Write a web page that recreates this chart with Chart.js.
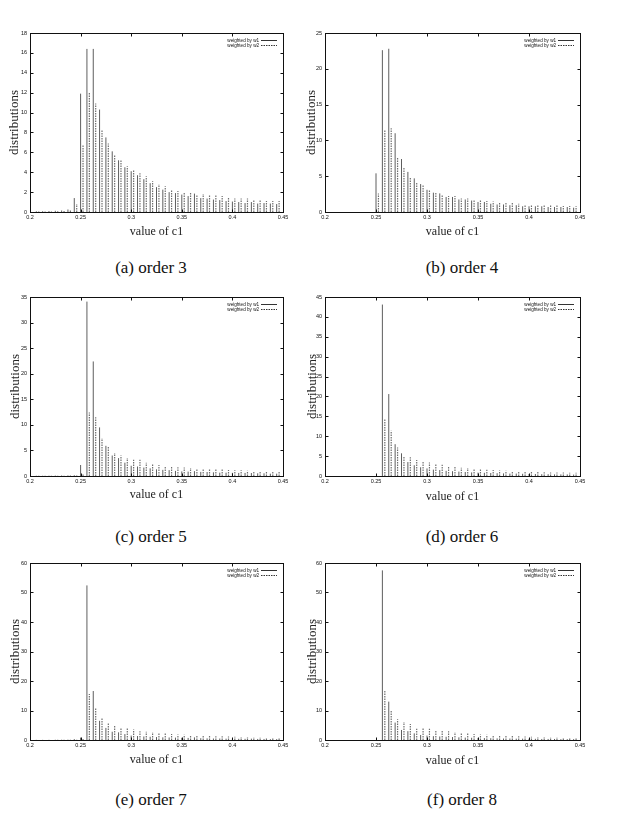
<!DOCTYPE html>
<html>
<head>
<meta charset="utf-8">
<script src="https://cdn.jsdelivr.net/npm/chart.js@4.4.1/dist/chart.umd.min.js"></script>
<style>
  body { margin: 0; background: #fff; width: 618px; height: 824px; position: relative; overflow: hidden; }
  canvas { position: absolute; }
  .cap { position: absolute; font-family: "Liberation Serif", serif; font-size: 17px; color: #111;
         transform: translate(-50%, -50%); white-space: nowrap; }
</style>
</head>
<body>
<script>
// bin positions of c1 (left series), w2 is drawn a little to the right
const bins = [0.20625, 0.2125, 0.21875, 0.225, 0.23125, 0.2375, 0.24375,
  0.25, 0.25625, 0.2625, 0.26875, 0.275, 0.28125, 0.2875, 0.29375, 0.3, 0.30625,
  0.3125, 0.31875, 0.325, 0.33125, 0.3375, 0.34375, 0.35, 0.35625, 0.3625, 0.36875,
  0.375, 0.38125, 0.3875, 0.39375, 0.4, 0.40625, 0.4125, 0.41875, 0.425, 0.43125,
  0.4375, 0.44375];

const order3W1 = [0.07, 0.08, 0.1, 0.12, 0.15, 0.25, 1.4, 11.9, 16.4, 16.4, 10.3, 7.5, 6.1, 5.2, 4.5, 4.1, 3.7, 3.3, 2.9, 2.5, 2.25, 2.0, 1.9, 1.75, 1.6, 1.85, 1.4, 1.35, 1.25, 1.2, 1.1, 1.05, 1.0, 0.9, 1.0, 0.85, 0.9, 0.85, 0.8];
const order3W2 = [0.04, 0.05, 0.06, 0.08, 0.1, 0.15, 0.8, 6.7, 12.0, 10.9, 8.2, 6.9, 5.7, 5.2, 4.6, 4.2, 3.9, 3.6, 3.1, 2.8, 2.6, 2.25, 2.1, 2.0, 1.9, 1.75, 1.8, 1.75, 1.65, 1.6, 1.5, 1.35, 1.35, 1.35, 1.2, 1.2, 1.1, 1.1, 1.1];

const order4W1 = [0, 0, 0, 0, 0, 0, 0, 5.4, 22.6, 22.8, 11.0, 7.4, 5.6, 4.7, 3.9, 3.1, 2.7, 2.6, 2.1, 2.1, 1.75, 1.75, 1.6, 1.4, 1.4, 1.15, 1.05, 1.05, 0.95, 0.95, 0.8, 0.8, 0.8, 0.8, 0.7, 0.7, 0.7, 0.7, 0.6];
const order4W2 = [0, 0, 0, 0, 0, 0, 0, 2.6, 11.45, 11.7, 7.6, 6.3, 4.9, 4.1, 3.8, 3.1, 2.8, 2.45, 2.25, 2.25, 1.9, 1.9, 1.75, 1.65, 1.55, 1.45, 1.3, 1.25, 1.25, 1.15, 1.05, 1.05, 1.05, 0.9, 0.9, 0.9, 0.85, 0.85, 0.8];

const order5W1 = [0.05, 0.05, 0.06, 0.08, 0.1, 0.12, 0.15, 2.15, 34.1, 22.4, 9.5, 5.9, 4.0, 3.5, 2.6, 2.0, 1.85, 1.65, 1.5, 1.3, 1.2, 1.15, 1.0, 0.9, 0.85, 0.95, 0.8, 0.78, 0.72, 0.65, 0.65, 0.62, 0.6, 0.6, 0.58, 0.52, 0.52, 0.45, 0.45];
const order5W2 = [0.03, 0.03, 0.04, 0.05, 0.06, 0.08, 0.1, 0.4, 12.4, 11.5, 7.4, 5.7, 4.5, 4.0, 3.5, 3.2, 3.2, 2.6, 2.3, 2.15, 1.95, 1.85, 1.7, 1.65, 1.55, 1.45, 1.4, 1.3, 1.3, 1.25, 1.15, 1.1, 1.1, 1.05, 1.0, 0.95, 0.9, 0.9, 0.9];

const order6W1 = [0, 0, 0, 0, 0, 0, 0, 0, 43.1, 20.6, 8.0, 5.7, 3.5, 2.7, 2.2, 1.9, 1.6, 1.5, 1.3, 1.2, 1.1, 1.0, 0.9, 0.85, 0.8, 0.75, 0.7, 0.65, 0.6, 0.6, 0.55, 0.5, 0.5, 0.45, 0.45, 0.4, 0.4, 0.4, 0.35];
const order6W2 = [0, 0, 0, 0, 0, 0, 0, 0, 14.3, 11.35, 7.15, 4.8, 4.7, 4.0, 3.7, 3.4, 3.0, 2.8, 2.5, 2.3, 2.1, 2.0, 1.85, 1.7, 1.6, 1.5, 1.4, 1.3, 1.25, 1.2, 1.1, 1.05, 1.0, 0.95, 0.9, 0.9, 0.85, 0.8, 0.8];

const order7W1 = [0.05, 0.05, 0.06, 0.08, 0.1, 0.12, 0.3, 0.8, 52.4, 16.6, 6.5, 4.1, 2.8, 2.6, 2.0, 1.5, 1.35, 1.2, 1.1, 1.0, 0.9, 0.85, 0.8, 0.75, 0.7, 0.9, 0.6, 0.55, 0.5, 0.5, 0.45, 0.45, 0.4, 0.4, 0.45, 0.35, 0.35, 0.3, 0.3];
const order7W2 = [0.03, 0.03, 0.04, 0.05, 0.06, 0.08, 0.1, 0.3, 15.6, 10.7, 7.4, 5.9, 4.8, 4.0, 3.9, 3.6, 3.0, 2.8, 2.6, 2.4, 2.2, 2.0, 1.9, 1.8, 1.7, 1.6, 1.5, 1.4, 1.3, 1.25, 1.2, 1.1, 1.05, 1.0, 0.95, 0.9, 0.85, 0.8, 0.8];

const order8W1 = [0, 0, 0, 0, 0, 0, 0, 0, 57.5, 13.0, 5.9, 3.4, 3.0, 2.25, 1.7, 1.5, 1.3, 1.2, 1.1, 1.0, 0.9, 0.8, 0.75, 0.7, 0.65, 0.6, 0.55, 0.5, 0.5, 0.45, 0.45, 0.4, 0.4, 0.35, 0.35, 0.35, 0.3, 0.3, 0.3];
const order8W2 = [0, 0, 0, 0, 0, 0, 0, 0, 16.7, 10.1, 7.0, 6.1, 5.4, 3.8, 3.9, 3.8, 3.2, 3.4, 3.0, 2.6, 2.4, 2.2, 2.0, 1.9, 1.8, 1.6, 1.5, 1.45, 1.35, 1.3, 1.2, 1.1, 1.05, 1.0, 0.95, 0.9, 0.85, 0.8, 0.8];

const yMaxes = [18, 25, 35, 45, 60, 60];
const ySteps = [2, 5, 5, 5, 10, 10];
const seriesLabels = ['weighted by w1', 'weighted by w2'];
const captions = ['(a) order 3', '(b) order 4', '(c) order 5', '(d) order 6', '(e) order 7', '(f) order 8'];

const W2_SHIFT = 0.0024;

// layout of the six panels (page pixels)
const panels = [
    { w1: order3W1, w2: order3W2, left: 0,   width: 300, plotL: 30,  plotR: 283, plotT: 33,  plotB: 212, titleY: 232, yTitleX: 15,  capX: 151, capY: 268 },
    { w1: order4W1, w2: order4W2, left: 300, width: 318, plotL: 325, plotR: 580, plotT: 33,  plotB: 212, titleY: 232, yTitleX: 312, capX: 462, capY: 268 },
    { w1: order5W1, w2: order5W2, left: 0,   width: 300, plotL: 30,  plotR: 283, plotT: 297, plotB: 476, titleY: 495, yTitleX: 16,  capX: 151, capY: 537 },
    { w1: order6W1, w2: order6W2, left: 300, width: 318, plotL: 325, plotR: 580, plotT: 297, plotB: 476, titleY: 497, yTitleX: 313, capX: 462, capY: 537 },
    { w1: order7W1, w2: order7W2, left: 0,   width: 300, plotL: 30,  plotR: 283, plotT: 563, plotB: 740, titleY: 760, yTitleX: 16,  capX: 151, capY: 800 },
    { w1: order8W1, w2: order8W2, left: 300, width: 318, plotL: 325, plotR: 580, plotT: 563, plotB: 740, titleY: 761, yTitleX: 313, capX: 462, capY: 800 },
];

function impulses(values, shift) {
    const pts = [];
    values.forEach((v, i) => {
        const x = bins[i] + shift;
        pts.push({ x: x, y: 0 }, { x: x, y: v }, { x: x, y: null });
    });
    return pts;
}

// gnuplot style box with inward ticks on all four sides
const framePlugin = {
    id: 'frame',
    afterDraw(chart) {
        const { ctx, chartArea: a, scales: { x, y } } = chart;
        const l = Math.round(a.left) + 0.5, r = Math.round(a.right) + 0.5;
        const t = Math.round(a.top) + 0.5, b = Math.round(a.bottom) + 0.5;
        ctx.save();
        ctx.strokeStyle = '#111';
        ctx.lineWidth = 1;
        ctx.strokeRect(l, t, r - l, b - t);
        ctx.beginPath();
        x.ticks.forEach(tk => {
            const px = Math.round(x.getPixelForValue(tk.value)) + 0.5;
            ctx.moveTo(px, b); ctx.lineTo(px, b - 3);
            ctx.moveTo(px, t); ctx.lineTo(px, t + 3);
        });
        y.ticks.forEach(tk => {
            const py = Math.round(y.getPixelForValue(tk.value)) + 0.5;
            ctx.moveTo(l, py); ctx.lineTo(l + 3, py);
            ctx.moveTo(r, py); ctx.lineTo(r - 3, py);
        });
        ctx.stroke();
        ctx.restore();
    }
};

// key in the upper right corner: text, then a line sample
const keyPlugin = {
    id: 'key',
    afterDraw(chart) {
        const { ctx, chartArea: a } = chart;
        ctx.save();
        ctx.font = '4.6px "Liberation Sans", sans-serif';
        ctx.textAlign = 'right';
        ctx.textBaseline = 'middle';
        chart.data.datasets.forEach((ds, i) => {
            const yy = Math.round(a.top + 7 + i * 4.5) + 0.5;
            ctx.fillStyle = '#111';
            ctx.fillText(ds.label, a.right - 24, yy);
            ctx.strokeStyle = '#333';
            ctx.lineWidth = 1;
            ctx.setLineDash(ds.borderDash || []);
            ctx.beginPath();
            ctx.moveTo(a.right - 22, yy);
            ctx.lineTo(a.right - 6, yy);
            ctx.stroke();
        });
        ctx.restore();
    }
};

const tickFont = { family: '"Liberation Sans", sans-serif', size: 5.5 };
const titleFont = { family: '"Liberation Serif", serif', size: 12, lineHeight: 1.2 };
const yTitleFont = { family: '"Liberation Serif", serif', size: 13, lineHeight: 1.2 };

panels.forEach((p, idx) => {
    const top = p.plotT - 13;
    const height = p.titleY + 13 - top;
    const canvas = document.createElement('canvas');
    canvas.width = p.width;
    canvas.height = height;
    canvas.style.left = p.left + 'px';
    canvas.style.top = top + 'px';
    document.body.appendChild(canvas);

    const cap = document.createElement('div');
    cap.className = 'cap';
    cap.style.left = p.capX + 'px';
    cap.style.top = p.capY + 'px';
    cap.textContent = captions[idx];
    document.body.appendChild(cap);

    new Chart(canvas, {
        type: 'line',
        data: {
            datasets: [{
                label: seriesLabels[0],
                data: impulses(p.w1, 0),
                borderColor: '#5e5e5e',
                borderWidth: 1,
                pointRadius: 0,
                spanGaps: false,
            }, {
                label: seriesLabels[1],
                data: impulses(p.w2, W2_SHIFT),
                borderColor: '#6e6e6e',
                borderWidth: 1.2,
                borderDash: [1.5, 1],
                pointRadius: 0,
                spanGaps: false,
            }]
        },
        options: {
            responsive: false,
            animation: false,
            events: [],
            layout: { padding: { left: 0, right: p.width - (p.plotR - p.left), top: 13, bottom: 0 } },
            plugins: { legend: { display: false }, tooltip: { enabled: false } },
            scales: {
                x: {
                    type: 'linear',
                    min: 0.2,
                    max: 0.45,
                    afterFit: s => { s.height = height - 13 - (p.plotB - p.plotT); },
                    grid: { display: false, drawTicks: false },
                    border: { display: false },
                    ticks: {
                        stepSize: 0.05,
                        autoSkip: false,
                        maxRotation: 0,
                        padding: 2.5,
                        font: tickFont,
                        color: '#111',
                        callback: v => String(+v.toFixed(2))
                    },
                    title: {
                        display: true,
                        text: 'value of c1',
                        font: titleFont,
                        color: '#222',
                        padding: { top: 0, bottom: 13 - 7.2 }
                    }
                },
                y: {
                    min: 0,
                    max: yMaxes[idx],
                    afterFit: s => { s.width = p.plotL - p.left; },
                    grid: { display: false, drawTicks: false },
                    border: { display: false },
                    ticks: { stepSize: ySteps[idx], padding: 3, font: tickFont, color: '#111' },
                    title: {
                        display: true,
                        text: 'distributions',
                        font: yTitleFont,
                        color: '#222',
                        padding: { top: p.yTitleX - p.left - 7.8, bottom: 0 }
                    }
                }
            }
        },
        plugins: [framePlugin, keyPlugin]
    });
});
</script>
</body>
</html>
